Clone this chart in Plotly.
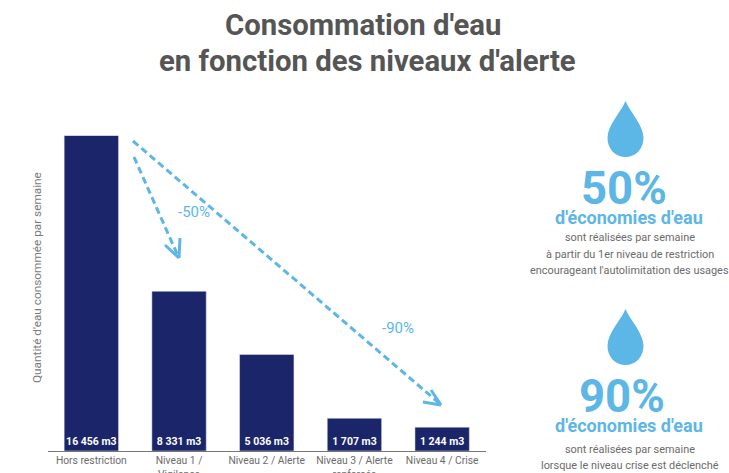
import plotly.graph_objects as go

W, H = 729, 473
categories = ["Hors restriction", "Niveau 1 /<br>Vigilance", "Niveau 2 / Alerte",
              "Niveau 3 / Alerte<br>renforcée", "Niveau 4 / Crise"]
values = [16456, 8331, 5036, 1707, 1244]
bar_labels = ["16 456 m3", "8 331 m3", "5 036 m3", "1 707 m3", "1 244 m3"]

NAVY, BLUE, GREY = "#1b2569", "#5cb6e6", "#6b6b6b"
FONT = "Roboto"

def px(x): return x / W
def py(y): return 1 - y / H

fig = go.Figure(go.Bar(
    x=categories, y=values, width=0.62, marker=dict(color=NAVY),
    text=bar_labels, textposition="inside", insidetextanchor="start",
    textangle=0, constraintext="none",
    textfont=dict(family=FONT, size=10.5, color="white", weight=700),
    hoverinfo="skip"))

def line(x0, y0, x1, y1, dash="solid", width=3):
    fig.add_shape(type="line", xref="paper", yref="paper", x0=px(x0), y0=py(y0),
                  x1=px(x1), y1=py(y1), line=dict(color=BLUE, width=width, dash=dash))

line(133, 141, 439, 403, dash="7px,4px")
line(441, 405, 423, 402); line(441, 405, 431, 390)
line(134, 157, 178, 256, dash="7px,4px")
line(179, 258, 165, 245); line(179, 258, 180, 238)

def drop(cx, top):
    h = 56
    p = lambda dx, dy: f"{px(cx + dx):.5f},{py(top + dy):.5f}"
    path = (f"M {p(0, 0)} C {p(-5, 12)},{p(-18, 24)},{p(-18, 37)} "
            f"C {p(-18, 48)},{p(-10, h)},{p(0, h)} C {p(10, h)},{p(18, 48)},{p(18, 37)} "
            f"C {p(18, 24)},{p(5, 12)},{p(0, 0)} Z")
    fig.add_shape(type="path", xref="paper", yref="paper", path=path,
                  fillcolor=BLUE, line=dict(width=0))

drop(625.5, 101)
drop(625.5, 309)

def text(x, y, s, size, color=GREY, bold=False, angle=0):
    fig.add_annotation(xref="paper", yref="paper", x=px(x), y=py(y), text=s,
                       showarrow=False, xanchor="center", yanchor="middle", textangle=angle,
                       font=dict(family=FONT, size=size, color=color, weight=700 if bold else 400))

text(363, 25, "Consommation d'eau", 29.3, "#555555", True)
text(367, 61, "en fonction des niveaux d'alerte", 29.3, "#555555", True)
text(37, 278, "Quantité d'eau consommée par semaine", 11.8, "#7a7a7a", angle=-90)
text(194, 212, "-50%", 15, BLUE)
text(398, 328, "-90%", 15, BLUE)

text(623.5, 188, "50%", 45.5, BLUE, True)
text(629, 217, "d'économies d'eau", 18, BLUE, True)
text(629.5, 237, "sont réalisées par semaine", 10.9, GREY)
text(629.5, 254, "à partir du 1er niveau de restriction", 10.9, GREY)
text(629.5, 270, "encourageant l'autolimitation des usages", 10.9, GREY)

text(621.5, 396, "90%", 45.5, BLUE, True)
text(629, 425, "d'économies d'eau", 18, BLUE, True)
text(629.5, 449, "sont réalisées par semaine", 10.9, GREY)
text(629.5, 465, "lorsque le niveau crise est déclenché", 10.9, GREY)

fig.update_layout(
    width=W, height=H, margin=dict(l=0, r=0, t=0, b=0),
    paper_bgcolor="white", plot_bgcolor="white", showlegend=False,
    xaxis=dict(domain=[px(47.5), px(486)], type="category", showgrid=False, ticks="",
               showline=True, linecolor="#777777", linewidth=1.2,
               tickfont=dict(family=FONT, size=10.3, color=GREY), tickangle=0, automargin=False),
    yaxis=dict(domain=[py(451), py(135.5)], range=[0, 16456], visible=False),
)
fig.write_html("out.html", config={"displayModeBar": False},
               post_script="document.body.style.margin='0';document.body.style.overflow='hidden';")
